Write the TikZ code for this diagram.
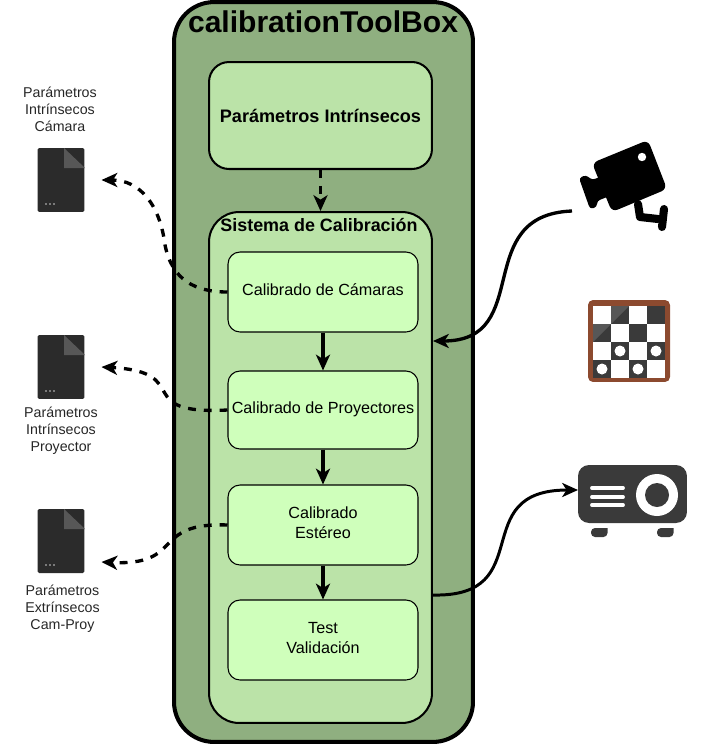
\documentclass[tikz,border=0pt]{standalone}
\usepackage{fontspec}
\setmainfont{Liberation Sans}
\usetikzlibrary{arrows.meta,positioning}
\definecolor{toolboxgreen}{HTML}{8FAF80}
\definecolor{panelgreen}{HTML}{BBE3A8}
\definecolor{stepgreen}{HTML}{CFFFBB}
\definecolor{icondark}{HTML}{2B2B2B}
\definecolor{foldgrey}{HTML}{575757}
\definecolor{boarddark}{HTML}{3A3A3A}
\definecolor{boardbrown}{HTML}{8C4A2F}
\tikzset{
    panelbox/.style={draw=black, line width=1.15pt, fill=panelgreen, rounded corners=0.4cm, minimum width=4.46cm},
    calibbox/.style={draw=black, line width=0.6pt, fill=stepgreen, rounded corners=0.24cm, minimum width=3.8cm, inner xsep=0pt, align=center, font=\fontsize{9.2}{11.3}\selectfont, execute at end node={\rule[-2.3pt]{0pt}{0pt}}},
    docbox/.style={fill=icondark, rounded corners=0.03cm, minimum width=0.94cm, minimum height=1.28cm, outer xsep=0.34cm},
    doclabel/.style={align=center, text=black!85, font=\fontsize{8.1}{9.7}\selectfont},
    solidarrow/.style={line width=1.9pt, -{Stealth[length=9pt,width=8pt,inset=2.5pt]}},
    dasharrow/.style={solidarrow, dash pattern=on 4.5pt off 4.5pt}
}
\begin{document}
\begin{tikzpicture}[x=0.02cm,y=-0.02cm]
            \useasboundingbox (0,0) rectangle (702,747);

            % Toolbox and panels
            \node[draw=black, line width=2.3pt, fill=toolboxgreen, rounded corners=0.8cm, minimum width=5.98cm, minimum height=14.8cm] (toolBox) at (323.5,372) {};
            \node[font=\fontsize{17.1}{18}\bfseries\selectfont] (toolTitle) at (323,22) {calibrationToolBox};
            \node[panelbox, minimum height=2.14cm, font=\fontsize{10.3}{12}\bfseries\selectfont] (intrinsecos) at (320.5,115.5) {Parámetros Intrínsecos};
            \node[panelbox, rounded corners=0.6cm, minimum height=10.22cm] (sistema) at (320.5,467.5) {};
            \node[font=\fontsize{10.2}{12}\bfseries\selectfont] (sistemaTitle) at (319,225) {Sistema de Calibración};

            % Calibration steps
            \node[calibbox, minimum height=1.6cm] (calCam) at (323,292) {Calibrado de Cámaras};
            \node[calibbox, minimum height=1.56cm] (calPro) at (323,410) {Calibrado de Proyectores};
            \node[calibbox, minimum height=1.6cm] (calEst) at (323,525) {Calibrado\\Estéreo};
            \node[calibbox, minimum height=1.6cm] (calTest) at (323,640) {Test\\Validación};

            % Output files
            \foreach \docname/\docx/\docy in {docCam/61/180, docPro/61/367, docEst/61/541} {
                \node[docbox] (\docname) at (\docx,\docy) {};
                \fill[foldgrey] (\docx+3,\docy-32) -- (\docx+24,\docy-12) -- (\docx+3,\docy-12) -- cycle;
                \foreach \dotx in {-15,-11,-7} {
                    \fill[white!80!black] (\docx+\dotx,\docy+24) circle (0.8);
                }
            }
            \node[doclabel, above=0.2cm of docCam.north, xshift=-0.02cm] (docCamLbl) {Parámetros\\Intrínsecos\\Cámara};
            \node[doclabel, below=0.02cm of docPro.south] (docProLbl) {Parámetros\\Intrínsecos\\Proyector};
            \node[doclabel, below=0.1cm of docEst.south, xshift=0.03cm] (docEstLbl) {Parámetros\\Extrínsecos\\Cam-Proy};

            % Camera
            \fill[black, rounded corners=0.12cm] (592,163) -- (648,140) -- (667,189) -- (612,212) -- cycle;
            \fill[black, rounded corners=0.06cm] (579,178) -- (586,175) -- (592,180) -- (605,175) -- (612,195) -- (597,201) -- (597,207) -- (590,209) -- cycle;
            \fill[white] (642,157) circle (4.2);
            \draw[black, line width=4.6pt, line join=round, line cap=round] (638,204) -- (640,217) -- (658,219);
            \draw[black, line width=4.6pt, line cap=round] (664,209) -- (662,227);
            \coordinate (camOut) at (572,211);

            % Calibration board
            \node[fill=boardbrown, rounded corners=0.1cm, minimum size=1.64cm] (tablero) at (629,341) {};
            \fill[white] (593,306) rectangle (665,378);
            \foreach \col/\row in {1/0, 3/0, 0/1, 2/1, 1/2, 3/2, 0/3, 2/3} {
                \fill[boarddark] (593+\col*18,306+\row*18) rectangle +(18,18);
            }
            \foreach \col/\row in {1/0, 0/1} {
                \fill[foldgrey] (593+\col*18,306+\row*18) -- +(18,0) -- +(0,18) -- cycle;
            }
            \foreach \col/\row in {1/2, 3/2, 0/3, 2/3} {
                \fill[white] (602+\col*18,315+\row*18) circle (5.5);
            }

            % Projector
            \node[fill=boarddark, rounded corners=0.22cm, minimum width=2.18cm, minimum height=1.16cm] (proyector) at (632.5,494) {};
            \foreach \footx in {591,657} {
                \fill[boarddark] (\footx,528) -- +(16.5,0) [rounded corners=0.08cm] -- +(16.5,9) -- +(0,9) -- cycle;
            }
            \foreach \bary in {488,497,505} {
                \draw[white, line width=2.2pt, line cap=round] (592,\bary) -- (623,\bary);
            }
            \fill[white] (657,495) circle (21);
            \fill[boarddark] (657,495) circle (12);
            \coordinate (proIn) at (578,490);

            % Connectors
            \coordinate (sisIn) at (433,341);
            \coordinate (sisOut) at (432,595);
            \coordinate[below=0.42cm of docEst.east] (docEstIn);
            \draw[dasharrow] (intrinsecos) -- (sistema);
            \draw[solidarrow] (calCam) -- (calPro);
            \draw[solidarrow] (calPro) -- (calEst);
            \draw[solidarrow] (calEst) -- (calTest);
            \draw[dasharrow] (calCam.west) .. controls (195,292) and (172,280) .. (165,245) .. controls (160,205) and (140,180) .. (docCam.east);
            \draw[dasharrow] (calPro.west) .. controls (130,415) and (195,372) .. (docPro.east);
            \draw[dasharrow] (calEst.west) .. controls (150,522) and (185,566) .. (docEstIn);
            \draw[solidarrow] (camOut) .. controls (470,215) and (535,341) .. (sisIn);
            \draw[line width=1.7pt, -{Stealth[length=9pt,width=8pt,inset=2.5pt]}] (sisOut) .. controls (540,598) and (465,490) .. (proIn);
        \end{tikzpicture}
\end{document}
